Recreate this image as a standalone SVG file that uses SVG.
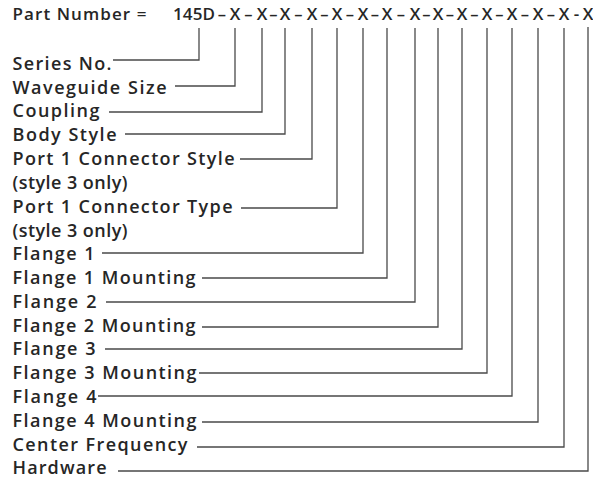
<svg xmlns="http://www.w3.org/2000/svg" width="593" height="479" viewBox="0 0 593 479">
<style>
text{font-family:"Open Sans","Noto Sans","Liberation Sans",sans-serif;font-size:18px;font-weight:600;fill:#262626;}
.h{font-size:17px;}
.c{text-anchor:middle}
.d{font-family:"Liberation Sans",sans-serif;font-size:14px;}
#connectors polyline{fill:none;stroke:#4a4a4a;stroke-width:1.3;}
</style>
<rect width="593" height="479" fill="#fff"/>
<g id="header">
<text class="h" x="12.5" y="20" textLength="134" lengthAdjust="spacing">Part Number =</text>
<text class="h" x="173" y="20" textLength="42" lengthAdjust="spacing">145D</text>
<text class="h c" y="20"><tspan class="d" x="222">–</tspan><tspan x="235">X</tspan><tspan class="d" x="248.5">–</tspan><tspan x="262">X</tspan><tspan class="d" x="273.5">–</tspan><tspan x="285">X</tspan><tspan class="d" x="298.5">–</tspan><tspan x="312">X</tspan><tspan class="d" x="324.5">–</tspan><tspan x="337">X</tspan><tspan class="d" x="350">–</tspan><tspan x="363">X</tspan><tspan class="d" x="375">–</tspan><tspan x="387">X</tspan><tspan class="d" x="401">–</tspan><tspan x="415">X</tspan><tspan class="d" x="426.5">–</tspan><tspan x="438">X</tspan><tspan class="d" x="450">–</tspan><tspan x="462">X</tspan><tspan class="d" x="474.5">–</tspan><tspan x="487">X</tspan><tspan class="d" x="499.5">–</tspan><tspan x="512">X</tspan><tspan class="d" x="525">–</tspan><tspan x="538">X</tspan><tspan class="d" x="551">–</tspan><tspan x="564">X</tspan><tspan x="576.5">-</tspan><tspan x="588">X</tspan></text>
</g>
<g id="connectors">
<polyline points="113,60 199,60 199,28"/>
<polyline points="175,86 235,86 235,28"/>
<polyline points="109,112 262,112 262,28"/>
<polyline points="125,134 285,134 285,28"/>
<polyline points="240,159 312,159 312,28"/>
<polyline points="241,208 337,208 337,28"/>
<polyline points="102,253 363,253 363,28"/>
<polyline points="202,278 387,278 387,28"/>
<polyline points="106,302 415,302 415,28"/>
<polyline points="202,327 438,327 438,28"/>
<polyline points="105,349 462,349 462,28"/>
<polyline points="199,373 487,373 487,28"/>
<polyline points="98,396 512,396 512,28"/>
<polyline points="202,422 538,422 538,28"/>
<polyline points="197,447 564,447 564,28"/>
<polyline points="118,471 588,471 588,27"/>
</g>
<g id="series-no"><text x="12.5" y="70" textLength="99" lengthAdjust="spacing">Series No.</text></g>
<g id="waveguide-size"><text x="12.5" y="93.5" textLength="154" lengthAdjust="spacing">Waveguide Size</text></g>
<g id="coupling"><text x="12.5" y="117" textLength="87" lengthAdjust="spacing">Coupling</text></g>
<g id="body-style"><text x="12.5" y="141" textLength="104" lengthAdjust="spacing">Body Style</text></g>
<g id="port1-style"><text x="12.5" y="165" textLength="222" lengthAdjust="spacing">Port 1 Connector Style</text><text x="12.5" y="189" textLength="115" lengthAdjust="spacing">(style 3 only)</text></g>
<g id="port1-type"><text x="12.5" y="213" textLength="220" lengthAdjust="spacing">Port 1 Connector Type</text><text x="12.5" y="237" textLength="115" lengthAdjust="spacing">(style 3 only)</text></g>
<g id="flange1"><text x="12.5" y="260" textLength="82" lengthAdjust="spacing">Flange 1</text></g>
<g id="flange1-mounting"><text x="12.5" y="284" textLength="183" lengthAdjust="spacing">Flange 1 Mounting</text></g>
<g id="flange2"><text x="12.5" y="307.5" textLength="84" lengthAdjust="spacing">Flange 2</text></g>
<g id="flange2-mounting"><text x="12.5" y="331.5" textLength="183" lengthAdjust="spacing">Flange 2 Mounting</text></g>
<g id="flange3"><text x="12.5" y="355" textLength="83" lengthAdjust="spacing">Flange 3</text></g>
<g id="flange3-mounting"><text x="12.5" y="379" textLength="184" lengthAdjust="spacing">Flange 3 Mounting</text></g>
<g id="flange4"><text x="12.5" y="403" textLength="84" lengthAdjust="spacing">Flange 4</text></g>
<g id="flange4-mounting"><text x="12.5" y="427" textLength="184" lengthAdjust="spacing">Flange 4 Mounting</text></g>
<g id="center-frequency"><text x="12.5" y="450.5" textLength="175" lengthAdjust="spacing">Center Frequency</text></g>
<g id="hardware"><text x="12.5" y="474" textLength="94" lengthAdjust="spacing">Hardware</text></g>
</svg>
